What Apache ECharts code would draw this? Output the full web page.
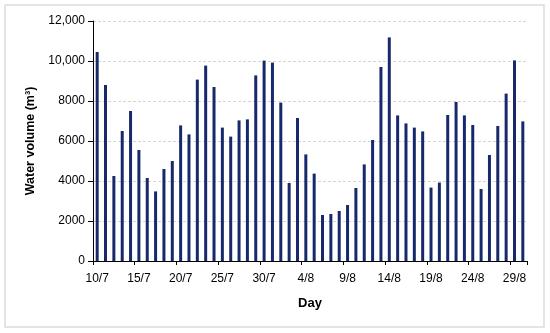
<!DOCTYPE html>
<html><head><meta charset="utf-8">
<script src="https://cdn.jsdelivr.net/npm/echarts@6/dist/echarts.min.js"></script>
<style>html,body{margin:0;padding:0;background:#fff}#c{width:550px;height:333px}</style>
</head><body><div id="c"></div>
<script>
const days = ["10/7","11/7","12/7","13/7","14/7","15/7","16/7","17/7","18/7","19/7","20/7","21/7","22/7","23/7","24/7","25/7","26/7","27/7","28/7","29/7","30/7","31/7",
"1/8","2/8","3/8","4/8","5/8","6/8","7/8","8/8","9/8","10/8","11/8","12/8","13/8","14/8","15/8","16/8","17/8","18/8","19/8","20/8","21/8","22/8","23/8","24/8","25/8","26/8","27/8","28/8","29/8","30/8"];
const waterVolume = [10450,8800,4250,6500,7500,5550,4150,3480,4600,5000,6780,6330,9070,9770,8700,6670,6220,7030,7080,
9280,10020,9920,7920,3900,7150,5330,4370,2300,2350,2500,2800,3650,4830,6050,9700,11180,7280,
6880,6670,6480,3670,3920,7300,7950,7280,6800,3600,5300,6750,8370,10030,6980];
const yTickLabels = {"0":"0","2000":"2000","4000":"4000","6000":"6000","8000":"8000","10000":"10,000","12000":"12,000"};

const chart = echarts.init(document.getElementById('c'), null, {renderer:'canvas'});
const font = '"Liberation Sans", Arial, sans-serif';
chart.setOption({
  animation:false,
  backgroundColor:'#fff',
  graphic:[{type:'rect',shape:{x:5,y:5,width:539,height:322},style:{fill:'none',stroke:'#dcdcdc',lineWidth:1.5},silent:true}],
  grid:{left:93,right:23,top:21,bottom:72},
  xAxis:{
    type:'category',data:days,boundaryGap:true,
    name:'Day',nameLocation:'middle',nameGap:36,
    nameTextStyle:{fontFamily:font,fontSize:13,fontWeight:'bold',color:'#000'},
    axisLine:{lineStyle:{color:'#000',width:1}},
    axisTick:{show:true,interval:4,length:4,lineStyle:{color:'#000'}},
    axisLabel:{interval:4,fontFamily:font,fontSize:12,color:'#000',margin:12}
  },
  yAxis:{
    type:'value',min:0,max:12000,interval:2000,
    name:'Water volume (m³)',nameLocation:'middle',nameGap:56,
    nameTextStyle:{fontFamily:font,fontSize:12.5,fontWeight:'bold',color:'#000'},
    axisLine:{show:true,lineStyle:{color:'#000',width:1}},
    axisTick:{show:true,length:5,lineStyle:{color:'#000'}},
    axisLabel:{fontFamily:font,fontSize:12,color:'#000',margin:8,
      formatter:v=>yTickLabels[String(v)]!==undefined?yTickLabels[String(v)]:String(v)},
    splitLine:{show:true,lineStyle:{color:'#d4d4d4',type:[3,2],width:1}}
  },
  series:[{type:'bar',data:waterVolume,barWidth:3,itemStyle:{color:'#17296b'}}]
});
</script></body></html>
